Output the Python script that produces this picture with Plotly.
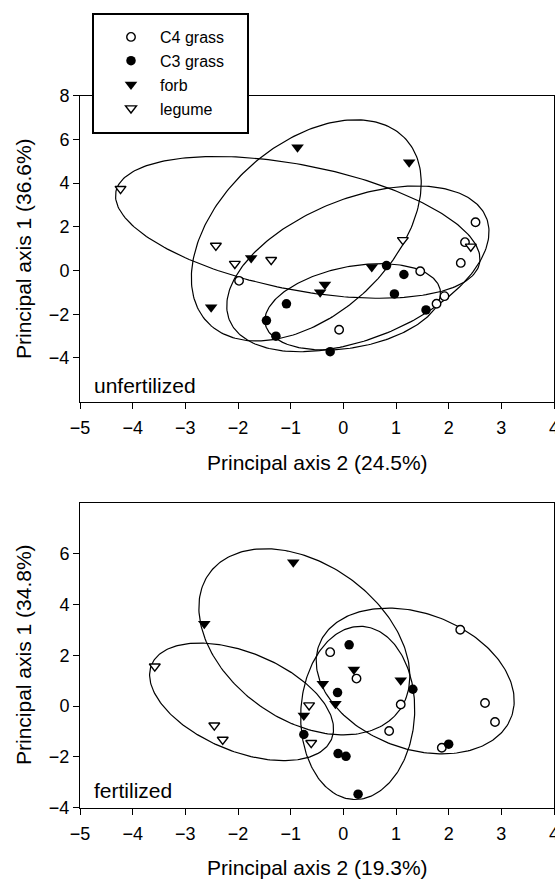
import numpy as np
import plotly.graph_objects as go

# ---------------- data: unfertilized (top panel) ----------------
c4_top_x = [-1.98, -0.08, 1.46, 1.77, 1.92, 2.23, 2.31, 2.51]
c4_top_y = [-0.47, -2.71, -0.03, -1.52, -1.17, 0.35, 1.30, 2.21]
c3_top_x = [-1.46, -1.28, -1.08, -0.25, 0.82, 1.15, 0.97, 1.57]
c3_top_y = [-2.29, -3.00, -1.52, -3.71, 0.23, -0.18, -1.07, -1.80]
forb_top_x = [-0.87, 1.25, 0.54, -1.75, -2.51, -0.35, -0.44]
forb_top_y = [5.64, 4.96, 0.16, 0.57, -1.68, -0.64, -0.99]
legume_top_x = [-4.23, -2.42, -2.06, -1.37, 1.13, 2.42]
legume_top_y = [3.74, 1.14, 0.31, 0.49, 1.40, 1.10]

# ---------------- data: fertilized (bottom panel) ----------------
c4_bot_x = [2.22, -0.25, 0.25, 1.09, 2.69, 0.87, 1.87, 2.88]
c4_bot_y = [3.00, 2.12, 1.08, 0.06, 0.12, -0.98, -1.64, -0.63]
c3_bot_x = [0.11, 1.32, -0.11, -0.75, -0.10, 0.05, 2.00, 0.28]
c3_bot_y = [2.41, 0.66, 0.53, -1.12, -1.87, -1.98, -1.50, -3.47]
forb_bot_x = [-0.95, -2.64, 0.20, 1.09, -0.39, -0.15, -0.75]
forb_bot_y = [5.66, 3.24, 1.44, 1.01, 0.88, 0.09, -0.37]
legume_bot_x = [-3.58, -0.65, -2.45, -2.29, -0.61]
legume_bot_y = [1.56, 0.03, -0.76, -1.32, -1.45]

# ---------------- ellipse outline points ----------------
ell_legume_top_x = [-4.354, -4.178, -3.544, -2.912, -1.962, -0.443, 1.013, 2.215, 2.594, 2.405, 1.835, 0.886, -0.570, -2.594, -4.051]
ell_legume_top_y = [3.60, 2.82, 1.30, 0.535, -0.457, -0.988, -1.263, -0.608, 0.686, 1.60, 2.67, 3.74, 4.73, 5.19, 4.57]
ell_forb_top_x = [0.316, 1.328, 1.488, 1.127, 0.823, 0.253, -0.571, -1.265, -2.152, -2.722, -2.912, -2.849, -2.532, -1.962, -1.265, -0.443]
ell_forb_top_y = [6.79, 5.87, 4.04, 1.40, 0.23, -1.45, -2.67, -3.05, -2.90, -2.06, -0.686, 0.535, 2.21, 4.35, 5.87, 6.48]
ell_c4_top_x = [-1.203, -0.571, 0.379, 1.328, 1.962, 2.467, 2.784, 2.816, 2.594, 1.835, 1.328, 0.696, 0.064, -0.538, -1.265, -1.645, -1.962, -2.089, -2.025, -1.835, -1.520, -1.013]
ell_c4_top_y = [1.91, 2.82, 3.43, 3.74, 3.66, 3.13, 2.06, 1.14, 0.078, -1.29, -2.06, -2.82, -3.43, -3.97, -3.73, -3.43, -2.52, -1.29, -0.38, 0.535, 1.30, 2.06]
ell_c3_top_x = [-0.443, -1.013, -1.360, -1.488, -1.393, -1.013, -0.253, 0.696, 1.518, 1.867, 1.708, 1.328, 0.696, 0.379]
ell_c3_top_y = [-0.073, -0.837, -1.60, -2.36, -2.97, -3.35, -3.71, -3.12, -2.36, -1.29, -0.53, 0.16, 0.31, 0.23]

ell_forb_bot_x = [-2.735, -2.689, -2.342, -2.089, -1.393, -0.571, -0.253, 0.316, 0.696, 1.013, 1.171, 1.30, 1.25, 1.009, 0.538, -0.134, -0.74, -1.277, -1.836, -2.279, -2.595]
ell_forb_bot_y = [3.76, 4.68, 5.46, 5.99, 6.21, 5.85, 5.53, 4.68, 3.89, 2.84, 1.80, 0.88, 0.10, -0.30, -0.89, -1.06, -0.83, -0.43, 0.35, 1.40, 2.45]
ell_legume_bot_x = [-3.576, -3.354, -2.912, -2.279, -1.520, -0.886, -0.443, -0.269, -0.234, -0.403, -0.806, -1.208, -1.814, -2.486, -3.158, -3.481, -3.639, -3.671]
ell_legume_bot_y = [1.93, 2.19, 2.42, 2.39, 1.93, 1.14, 0.35, -0.04, -0.83, -1.61, -2.13, -2.24, -1.94, -1.35, -0.56, 0.09, 0.75, 1.40]
ell_c3_bot_x = [-0.79, -0.506, -0.191, 0.443, 0.823, 1.076, 1.233, 1.328, 1.311, 1.144, 0.740, 0.282, -0.200, -0.605, -0.804]
ell_c3_bot_y = [0.62, 1.80, 2.71, 3.10, 2.84, 2.19, 1.27, 0.35, -0.95, -2.26, -3.31, -3.71, -3.25, -2.40, -1.08]
ell_c4_bot_x = [-0.443, -0.253, 0.253, 1.013, 1.645, 2.215, 2.722, 3.101, 3.227, 3.227, 3.025, 2.555, 1.883, 0.874, 0.202, -0.316, -0.443, -0.475]
ell_c4_bot_y = [2.19, 2.97, 3.63, 3.87, 3.69, 3.10, 2.19, 1.27, 0.35, -0.17, -1.08, -1.74, -1.85, -1.35, -0.56, 0.09, 0.75, 1.40]

# ---------------- axis / text labels ----------------
x_ticks = [-5, -4, -3, -2, -1, 0, 1, 2, 3, 4]
y_ticks_top = [-4, -2, 0, 2, 4, 6, 8]
y_ticks_bot = [-4, -2, 0, 2, 4, 6]
xtitle_top = "Principal axis 2 (24.5%)"
ytitle_top = "Principal axis 1 (36.6%)"
xtitle_bot = "Principal axis 2 (19.3%)"
ytitle_bot = "Principal axis 1 (34.8%)"
panel_top = "unfertilized"
panel_bot = "fertilized"
group_names = ["C4 grass", "C3 grass", "forb", "legume"]

FONT = "Liberation Sans, Arial, Helvetica, sans-serif"
W, H = 555, 881
ML, MR = 80, 1


def fit_ellipse(xs, ys, n=240):
    x = np.asarray(xs, float)
    y = np.asarray(ys, float)
    mx, my = x.mean(), y.mean()
    sx, sy = x.std(), y.std()
    u, v = (x - mx) / sx, (y - my) / sy
    D = np.column_stack([u * u, u * v, v * v, u, v])
    A, B, C, Dd, E = np.linalg.lstsq(D, np.ones_like(u), rcond=None)[0]
    M = np.array([[2 * A, B], [B, 2 * C]])
    cu, cv = np.linalg.solve(M, [-Dd, -E])
    Fc = A * cu * cu + B * cu * cv + C * cv * cv + Dd * cu + E * cv - 1
    Q = np.array([[A, B / 2], [B / 2, C]])
    w, V = np.linalg.eigh(Q)
    ax = np.sqrt(-Fc / w)
    t = np.linspace(0, 2 * np.pi, n)
    p = V @ np.vstack([ax[0] * np.cos(t), ax[1] * np.sin(t)])
    return (cu + p[0]) * sx + mx, (cv + p[1]) * sy + my


fig = go.Figure()

ellipses = [
    (ell_legume_top_x, ell_legume_top_y, "x", "y"),
    (ell_forb_top_x, ell_forb_top_y, "x", "y"),
    (ell_c4_top_x, ell_c4_top_y, "x", "y"),
    (ell_c3_top_x, ell_c3_top_y, "x", "y"),
    (ell_forb_bot_x, ell_forb_bot_y, "x2", "y2"),
    (ell_legume_bot_x, ell_legume_bot_y, "x2", "y2"),
    (ell_c3_bot_x, ell_c3_bot_y, "x2", "y2"),
    (ell_c4_bot_x, ell_c4_bot_y, "x2", "y2"),
]
for ex, ey, xa, ya in ellipses:
    fx, fy = fit_ellipse(ex, ey)
    fig.add_trace(go.Scatter(x=fx, y=fy, mode="lines", xaxis=xa, yaxis=ya,
                             line=dict(color="black", width=1.2),
                             showlegend=False, hoverinfo="skip"))

styles = [
    dict(symbol="circle", size=8.5, color="white", line=dict(color="black", width=1.4)),
    dict(symbol="circle", size=9.5, color="black", line=dict(color="black", width=0)),
    dict(symbol="triangle-down", size=11, color="black", line=dict(color="black", width=0)),
    dict(symbol="triangle-down", size=9.5, color="white", line=dict(color="black", width=1.4)),
]
top_sets = [(c4_top_x, c4_top_y), (c3_top_x, c3_top_y), (forb_top_x, forb_top_y), (legume_top_x, legume_top_y)]
bot_sets = [(c4_bot_x, c4_bot_y), (c3_bot_x, c3_bot_y), (forb_bot_x, forb_bot_y), (legume_bot_x, legume_bot_y)]

for (gx, gy), name, st in zip(top_sets, group_names, styles):
    fig.add_trace(go.Scatter(x=gx, y=gy, mode="markers", name=name, xaxis="x", yaxis="y",
                             marker=st, showlegend=True))
for (gx, gy), name, st in zip(bot_sets, group_names, styles):
    fig.add_trace(go.Scatter(x=gx, y=gy, mode="markers", name=name, xaxis="x2", yaxis="y2",
                             marker=st, showlegend=False))


def px_y(p):
    return 1 - p / H


def px_x(p):
    return (p - ML) / (W - ML - MR)


axis_common = dict(showline=True, mirror=True, linecolor="black", linewidth=1,
                   ticks="outside", tickcolor="black", ticklen=6, tickwidth=1,
                   showgrid=False, zeroline=False, automargin=False,
                   tickfont=dict(family=FONT, size=18, color="black"))

fig.update_layout(
    width=W, height=H,
    margin=dict(l=ML, r=MR, t=0, b=0),
    paper_bgcolor="white", plot_bgcolor="white",
    font=dict(family=FONT, color="black"),
    xaxis=dict(domain=[0, 1], range=[-5, 4], tickvals=x_ticks, anchor="y",
               ticklabelstandoff=4, ticklabeloverflow="allow", **axis_common),
    yaxis=dict(domain=[0.54404, 0.89137], range=[-6, 8], tickvals=y_ticks_top, anchor="x", **axis_common),
    xaxis2=dict(domain=[0, 1], range=[-5, 4], tickvals=x_ticks, anchor="y2",
                ticklabelstandoff=4, ticklabeloverflow="allow", **axis_common),
    yaxis2=dict(domain=[0.0832, 0.4294], range=[-4, 8], tickvals=y_ticks_bot, anchor="x2", **axis_common),
    legend=dict(x=px_x(102), y=px_y(20), xanchor="left", yanchor="top",
                bgcolor="rgba(0,0,0,0)", borderwidth=0, itemwidth=48,
                font=dict(family=FONT, size=16, color="black"), tracegroupgap=0),
    shapes=[dict(type="rect", xref="paper", yref="paper",
                 x0=px_x(93), x1=px_x(248), y0=px_y(133), y1=px_y(14),
                 line=dict(color="black", width=2), fillcolor="white", layer="above")],
    annotations=[
        dict(text=xtitle_top, xref="paper", yref="paper", x=0.5, y=px_y(462),
             showarrow=False, xanchor="center", yanchor="middle", font=dict(size=21)),
        dict(text=xtitle_bot, xref="paper", yref="paper", x=0.5, y=px_y(867),
             showarrow=False, xanchor="center", yanchor="middle", font=dict(size=21)),
        dict(text=ytitle_top, xref="paper", yref="paper", x=px_x(23), y=px_y(249),
             showarrow=False, xanchor="center", yanchor="middle", textangle=-90, font=dict(size=21)),
        dict(text=ytitle_bot, xref="paper", yref="paper", x=px_x(23), y=px_y(655),
             showarrow=False, xanchor="center", yanchor="middle", textangle=-90, font=dict(size=21)),
        dict(text=panel_top, xref="paper", yref="paper", x=px_x(92), y=px_y(385),
             showarrow=False, xanchor="left", yanchor="middle", font=dict(size=21)),
        dict(text=panel_bot, xref="paper", yref="paper", x=px_x(92), y=px_y(790),
             showarrow=False, xanchor="left", yanchor="middle", font=dict(size=21)),
    ],
)

fig.write_html("out.html", config={"displayModeBar": False},
               post_script="document.body.style.margin='0';")
